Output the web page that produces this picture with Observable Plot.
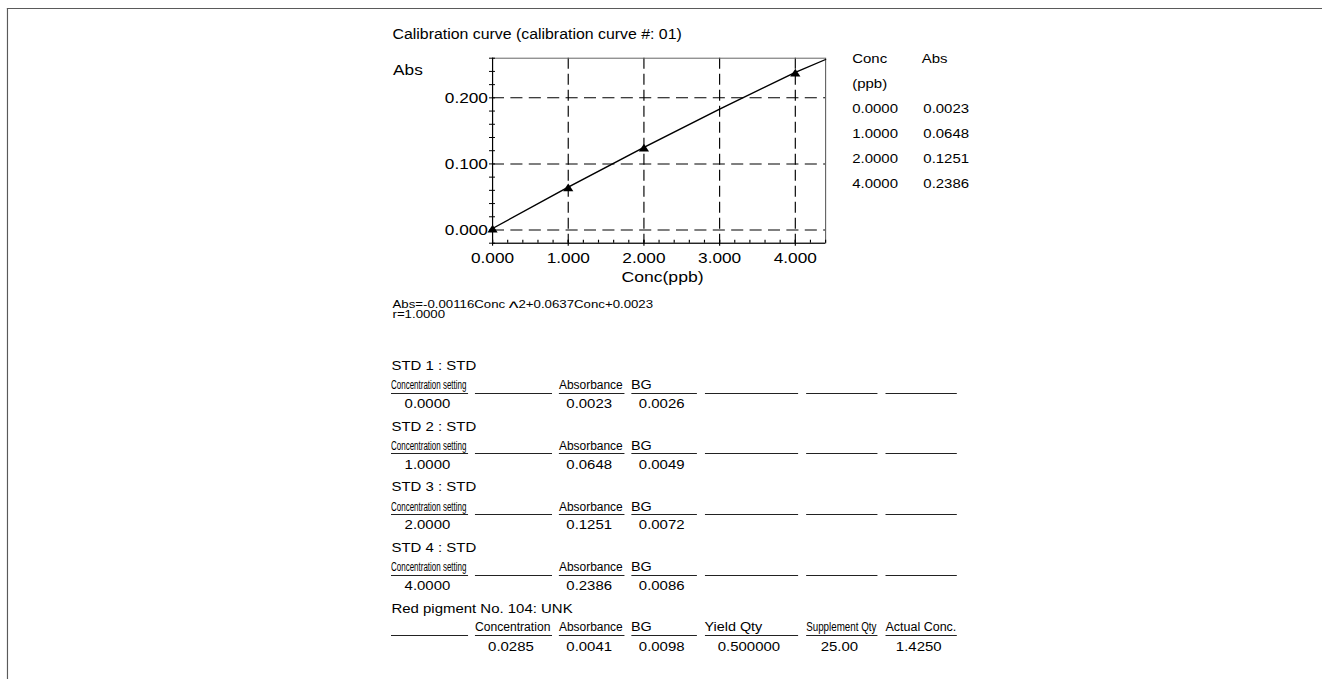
<!DOCTYPE html>
<html><head><meta charset="utf-8">
<script src="https://cdn.jsdelivr.net/npm/d3@7"></script>
<script src="https://cdn.jsdelivr.net/npm/@observablehq/plot@0.6"></script>
<style>
html,body{margin:0;padding:0;background:#fff;}
body{width:1322px;height:679px;overflow:hidden;position:relative;font-family:"Liberation Sans",Arial,sans-serif;color:#000;}
#page{position:absolute;left:0;top:0;width:1150px;height:679px;transform:scaleX(1.15);transform-origin:0 0;}
#border{position:absolute;left:5.6px;top:7.6px;right:-30px;bottom:-30px;border-top:1.6px solid #5a5a5a;border-left:1.4px solid #5a5a5a;}
.t{position:absolute;white-space:nowrap;transform-origin:0 50%;}
.ul{position:absolute;height:0;border-top:1.2px solid #222;}
</style></head><body><div id="page"><div id="border"></div></div>
<script>
// ---------- data ----------
const title = "Calibration curve (calibration curve #: 01)";
const xLabel = "Conc(ppb)";
const yLabel = "Abs";
const stdNames = ["STD 1 : STD", "STD 2 : STD", "STD 3 : STD", "STD 4 : STD"];
const stdConc = [0, 1, 2, 4];
const stdAbs = [0.0023, 0.0648, 0.1251, 0.2386];
const stdBG = [0.0026, 0.0049, 0.0072, 0.0086];
const curveConc = [0, 1, 2, 3, 4, 4.4];
const curveAbs = [0.0023, 0.0648, 0.1251, 0.1830, 0.2386, 0.2580];
const xTicks = [0, 1, 2, 3, 4];
const yTicks = [0, 0.1, 0.2];
const xDomain = [0, 4.4];
const yDomain = [-0.02, 0.26];
const equationParts = ["Abs=-0.00116Conc ", "^", "2+0.0637Conc+0.0023"];
const rText = "r=1.0000";
const listHead1 = ["Conc", "Abs"];
const listHead2 = ["(ppb)"];
const stdHeaders = ["Concentration setting", "", "Absorbance", "BG", "", "", ""];
const unkName = "Red pigment No. 104: UNK";
const unkHeaders = ["", "Concentration", "Absorbance", "BG", "Yield Qty", "Supplement Qty", "Actual Conc."];
const unkValues = [null, 0.0285, 0.0041, 0.0098, 0.5, 25, 1.425];
const unkFormats = [null, ".4f", ".4f", ".4f", ".6f", ".2f", ".4f"];

// ---------- layout ----------
const K = 1.15;
const page = document.getElementById("page");
const f4 = d3.format(".4f");

function place(text, x, cy, size, extra = {}) {
  const el = document.createElement("div");
  el.className = "t";
  el.textContent = text;
  el.style.left = x + "px";
  el.style.top = (cy - size / 2) + "px";
  el.style.fontSize = size + "px";
  el.style.lineHeight = size + "px";
  if (extra.width != null) { el.style.width = extra.width + "px"; el.style.textAlign = extra.align || "left"; }
  page.appendChild(el);
  if (extra.fit != null) {
    const w = el.getBoundingClientRect().width / K;
    if (w > extra.fit) el.style.transform = `scaleX(${extra.fit / w})`;
  }
  return el;
}
function underline(x1, x2, y) {
  const el = document.createElement("div");
  el.className = "ul";
  el.style.left = x1 + "px";
  el.style.width = (x2 - x1) + "px";
  el.style.top = y + "px";
  page.appendChild(el);
}

// ---------- chart ----------
const points = stdConc.map((c, i) => ({conc: c, abs: stdAbs[i]}));
const curve = curveConc.map((c, i) => ({conc: c, abs: curveAbs[i]}));
const yMinor = d3.range(-1, 14).map(i => +(i * 0.02).toFixed(3));
const xMinor = d3.range(0, 23).map(i => +(i * 0.2).toFixed(2));

const chart = Plot.plot({
  width: 400, height: 280,
  marginLeft: 97.8, marginRight: 12.6, marginTop: 37.7, marginBottom: 57.3,
  x: {domain: xDomain, axis: null},
  y: {domain: yDomain, axis: null},
  style: {fontFamily: '"Liberation Sans", Arial, sans-serif', fontSize: "15px", color: "black", background: "transparent", overflow: "visible"},
  marks: [
    Plot.gridX({ticks: xTicks.filter(d => d > xDomain[0]), stroke: "black", strokeOpacity: 1, strokeWidth: 1, strokeDasharray: "11,5"}),
    Plot.gridY({ticks: yTicks, stroke: "black", strokeOpacity: 1, strokeWidth: 1, strokeDasharray: "10.5,5.5"}),
    Plot.frame({stroke: "#666"}),
    Plot.ruleX([xDomain[0]], {stroke: "black", strokeWidth: 1}),
    Plot.ruleY([yDomain[0]], {stroke: "black", strokeWidth: 1}),
    Plot.axisY({ticks: yMinor, tickSize: 5.2, dx: 2.6, stroke: "black", fill: "none", label: null}),
    Plot.axisX({ticks: xMinor, tickSize: 3, dy: -3, stroke: "black", fill: "none", label: null}),
    Plot.axisX({ticks: xTicks, tickSize: 6, dy: -3, stroke: "black", fill: "none", label: null}),
    Plot.axisY({ticks: yTicks, tickFormat: d3.format(".3f"), tickSize: 0, tickPadding: 4, fontSize: 15, stroke: "none", label: null}),
    Plot.axisX({ticks: xTicks, tickFormat: d3.format(".3f"), tickSize: 0, tickPadding: 9, fontSize: 15, stroke: "none", label: null}),
    Plot.line(curve, {x: "conc", y: "abs", stroke: "black", strokeWidth: 1.3}),
    Plot.dot(points, {x: "conc", y: "abs", symbol: "triangle", fill: "black", stroke: null, r: 3.3, dy: 1.5}),
    Plot.text([xLabel], {text: d => d, frameAnchor: "bottom", dy: 34.3, dx: 3, fontSize: 15.3, lineAnchor: "middle"}),
    Plot.text([yLabel], {text: d => d, frameAnchor: "top-left", dx: -86.5, dy: 12.3, textAnchor: "start", lineAnchor: "middle", fontSize: 15})
  ]
});
chart.style.position = "absolute";
chart.style.left = "330px";
chart.style.top = "20px";
page.appendChild(chart);

// ---------- texts around chart ----------
const L = 341.3;
place(title, L, 35, 13.8);

const eq = place("", L, 303, 11.5);
eq.appendChild(document.createTextNode(equationParts[0]));
const caret = document.createElement("span");
caret.textContent = equationParts[1];
caret.style.fontSize = "18px";
caret.style.position = "relative";
caret.style.top = "6px";
eq.appendChild(caret);
eq.appendChild(document.createTextNode(equationParts[2]));
place(rText, L, 315, 11.5);

// point list on the right
const lx1 = 741.1, lx2 = 801.5, lx2v = 802.9;
place(listHead1[0], lx1, 58.5, 13);
place(listHead1[1], lx2, 58.5, 13);
place(listHead2[0], lx1, 83.4, 13);
stdConc.forEach((c, i) => {
  const cy = 108.3 + 24.9 * i;
  place(f4(c), lx1, cy, 13);
  place(f4(stdAbs[i]), lx2v, cy, 13);
});

// ---------- result table ----------
const colStart = [340.4, 413.0, 486.1, 548.7, 612.6, 700.9, 769.6];
const colEnd   = [407.0, 479.6, 542.6, 606.1, 693.9, 763.0, 832.2];
const T0 = 365.7, step = 60.6;

function headerRow(headers, T, hOff) {
  headers.forEach((h, j) => {
    const w = colEnd[j] - colStart[j];
    if (h) place(h, colStart[j], T + hOff, 12.5, {fit: w - 1});
    underline(colStart[j], colEnd[j], T + 27);
  });
}
function valueCell(text, j, cy) {
  const w = colEnd[j] - colStart[j];
  place(text, colStart[j] - 2, cy, 13, {width: w, align: "center"});
}

stdNames.forEach((name, i) => {
  const T = T0 + step * i;
  place(name, colStart[0], T, 13);
  headerRow(stdHeaders, T, 20);
  valueCell(f4(stdConc[i]), 0, T + 38);
  valueCell(f4(stdAbs[i]), 2, T + 38);
  valueCell(f4(stdBG[i]), 3, T + 38);
});

{
  const T = T0 + step * 4;
  place(unkName, colStart[0], T, 13);
  headerRow(unkHeaders, T, 19);
  unkValues.forEach((v, j) => {
    if (v != null) valueCell(d3.format(unkFormats[j])(v), j, T + 38.7);
  });
}
</script></body></html>
